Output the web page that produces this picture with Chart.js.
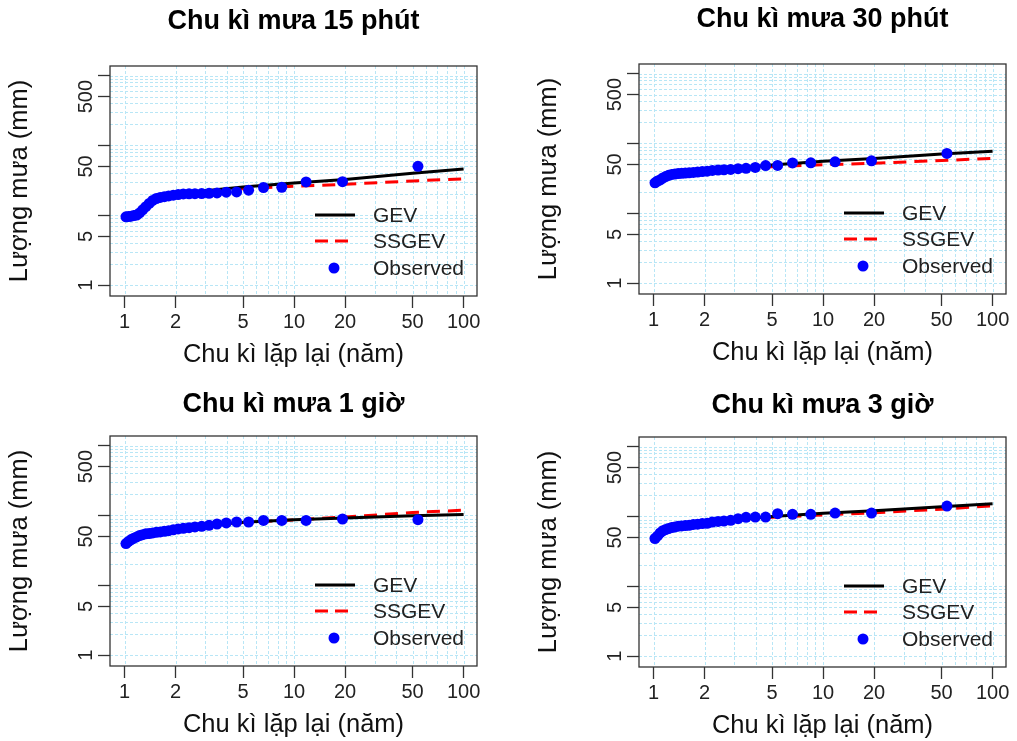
<!DOCTYPE html>
<html>
<head>
<meta charset="utf-8">
<title>Chu kì mưa</title>
<script src="https://cdn.jsdelivr.net/npm/chart.js@4.4.0/dist/chart.umd.min.js"></script>
<style>
  body { margin: 0; background: #fff; width: 1017px; height: 741px; position: relative; overflow: hidden; }
  .panel { position: absolute; width: 488px; height: 370px; }
</style>
</head>
<body>
<div class="panel" style="left:0;top:0"><canvas id="c15" width="488" height="370"></canvas></div>
<div class="panel" style="left:529px;top:-2px"><canvas id="c30" width="488" height="370"></canvas></div>
<div class="panel" style="left:0;top:370px"><canvas id="c1h" width="488" height="370"></canvas></div>
<div class="panel" style="left:529px;top:371px"><canvas id="c3h" width="488" height="370"></canvas></div>
<script>
// return periods of the observed maxima (largest first)
const obsPeriods = [53.8, 19.3, 11.77, 8.46, 6.6, 5.39, 4.58, 3.98, 3.51, 3.15,
    2.85, 2.60, 2.40, 2.22, 2.07, 1.936, 1.818, 1.715, 1.621, 1.539,
    1.465, 1.397, 1.335, 1.278, 1.226, 1.178, 1.133, 1.093, 1.055, 1.019];

const obs15 = [50.2, 30.3, 30.0, 25.2, 25.0, 22.9, 21.6, 21.4, 20.9, 20.6,
    20.5, 20.4, 20.3, 20.2, 19.8, 19.4, 18.9, 18.5, 18.0, 17.4,
    16.3, 14.8, 13.3, 12.0, 10.8, 10.1, 9.9, 9.7, 9.6, 9.5];
const obs30 = [71.8, 56.3, 54.5, 52.7, 52.5, 48.4, 48.2, 45.3, 44.0, 43.5,
    42.5, 42.0, 41.5, 41.0, 40.0, 39.5, 39.0, 38.5, 38.0, 37.6,
    37.3, 37.0, 36.5, 36.0, 35.0, 33.5, 32.0, 30.0, 29.0, 27.3];
const obs1h = [86.9, 88.9, 84.9, 84.9, 84.9, 80.5, 80.5, 78.0, 75.4, 72.1,
    69.8, 68.5, 66.8, 65.3, 64.0, 62.3, 60.5, 59.3, 58.0, 57.3,
    56.1, 55.0, 54.5, 53.1, 51.5, 49.2, 47.3, 45.1, 42.4, 39.5];
const obs3h = [140.6, 111.7, 111.7, 107.1, 107.1, 109.6, 98.0, 98.0, 97.0, 93.0,
    88.0, 86.0, 84.7, 83.0, 79.8, 79.0, 77.5, 76.7, 74.7, 74.0,
    73.1, 72.4, 70.7, 69.2, 67.0, 64.8, 62.4, 58.1, 52.6, 48.3];

// fitted return levels
const curvePeriods = [2, 3, 5, 10, 20, 50, 100];
const gev15 = [20, 22.5, 25.5, 29, 32.5, 40, 46];
const ssgev15 = [20, 22.5, 24, 26, 27.8, 31, 33.2];
const gev30 = [40, 44, 49, 55.5, 61, 70.5, 77.5];
const ssgev30 = [40, 44, 46.5, 49.5, 52, 57, 61];
const gev1h = [63, 72, 80, 87, 92, 99, 103];
const ssgev1h = [63, 72, 79, 86.5, 95, 110, 119];
const gev3h = [80, 90, 100, 111, 121, 138, 152];
const ssgev3h = [80, 90, 97, 105, 113, 127, 142];

const xTicks = [1, 2, 5, 10, 20, 50, 100];
const yTicks = [1, 5, 10, 50, 100, 500, 1000];
const yLabels = [1, 5, 50, 500];
const gridSteps = [1, 2, 3, 4, 5, 6, 7, 8, 9];
const legendLabels = ['GEV', 'SSGEV', 'Observed'];

const FONT = '"Liberation Sans", Arial, sans-serif';

// grid, box, rotated y labels and the inside legend, R style
const rPlotPlugin = {
    id: 'rPlot',
    beforeDatasetsDraw(chart) {
        const { ctx, chartArea: a, scales } = chart;
        ctx.save();
        ctx.strokeStyle = '#b8e6f6';
        ctx.lineWidth = 1;
        ctx.setLineDash([3, 2]);
        [1, 10].forEach(d => gridSteps.forEach(k => {
            const px = Math.round(scales.x.getPixelForValue(k * d)) + 0.5;
            ctx.beginPath(); ctx.moveTo(px, a.top); ctx.lineTo(px, a.bottom); ctx.stroke();
        }));
        const p100 = Math.round(scales.x.getPixelForValue(100)) + 0.5;
        ctx.beginPath(); ctx.moveTo(p100, a.top); ctx.lineTo(p100, a.bottom); ctx.stroke();
        [1, 10, 100, 1000].forEach(d => gridSteps.forEach(k => {
            const v = k * d;
            if (v > scales.y.max) return;
            const py = Math.round(scales.y.getPixelForValue(v)) + 0.5;
            ctx.beginPath(); ctx.moveTo(a.left, py); ctx.lineTo(a.right, py); ctx.stroke();
        }));
        ctx.restore();
    },
    afterDatasetsDraw(chart) {
        const { ctx, chartArea: a } = chart;
        const rows = [a.bottom - 81, a.bottom - 55, a.bottom - 28];
        ctx.save();
        ctx.lineWidth = 3;
        ctx.strokeStyle = '#000';
        ctx.beginPath(); ctx.moveTo(a.right - 162, rows[0]); ctx.lineTo(a.right - 122, rows[0]); ctx.stroke();
        ctx.strokeStyle = 'red';
        ctx.setLineDash([13, 7]);
        ctx.beginPath(); ctx.moveTo(a.right - 162, rows[1]); ctx.lineTo(a.right - 122, rows[1]); ctx.stroke();
        ctx.setLineDash([]);
        ctx.fillStyle = 'blue';
        ctx.beginPath(); ctx.arc(a.right - 143, rows[2], 5.5, 0, Math.PI * 2); ctx.fill();
        ctx.fillStyle = '#222';
        ctx.font = '21px ' + FONT;
        ctx.textAlign = 'left';
        ctx.textBaseline = 'middle';
        legendLabels.forEach((t, i) => ctx.fillText(t, a.right - 104, rows[i] + 1));
        ctx.restore();
    },
    afterDraw(chart) {
        const { ctx, chartArea: a, scales } = chart;
        ctx.save();
        ctx.strokeStyle = '#333';
        ctx.lineWidth = 1.3;
        ctx.strokeRect(a.left, a.top, a.right - a.left, a.bottom - a.top);
        ctx.fillStyle = '#222';
        ctx.font = '20px ' + FONT;
        ctx.textAlign = 'center';
        ctx.textBaseline = 'middle';
        yLabels.forEach(v => {
            ctx.save();
            ctx.translate(a.left - 25, scales.y.getPixelForValue(v));
            ctx.rotate(-Math.PI / 2);
            ctx.fillText(String(v), 0, 1);
            ctx.restore();
        });
        ctx.restore();
    }
};

function makePanel(id, title, obs, gev, ssgev, titleTop) {
    new Chart(document.getElementById(id), {
        type: 'scatter',
        data: {
            datasets: [{
                label: 'Observed',
                data: obsPeriods.map((t, i) => ({ x: t, y: obs[i] })),
                pointRadius: 5.5,
                pointBackgroundColor: 'blue',
                pointBorderWidth: 0,
                showLine: false
            }, {
                label: 'GEV',
                data: curvePeriods.map((t, i) => ({ x: t, y: gev[i] })),
                showLine: true,
                borderColor: '#000',
                borderWidth: 3,
                pointRadius: 0
            }, {
                label: 'SSGEV',
                data: curvePeriods.map((t, i) => ({ x: t, y: ssgev[i] })),
                showLine: true,
                borderColor: 'red',
                borderWidth: 3,
                borderDash: [13, 8],
                pointRadius: 0
            }]
        },
        options: {
            responsive: false,
            animation: false,
            layout: { padding: { top: 0, right: 11, bottom: 0, left: 0 } },
            plugins: {
                legend: { display: false },
                tooltip: { enabled: false },
                title: {
                    display: true,
                    text: title,
                    fullSize: false,
                    color: '#000',
                    font: { family: FONT, size: 27, weight: 'bold', lineHeight: 1.2 },
                    padding: { top: titleTop, bottom: 33.6 - titleTop }
                }
            },
            scales: {
                x: {
                    type: 'logarithmic',
                    min: 0.82,
                    max: 120,
                    afterBuildTicks: s => { s.ticks = xTicks.map(v => ({ value: v })); },
                    afterFit: s => { s.height = 74; },
                    border: { display: false },
                    grid: { drawOnChartArea: false, tickLength: 12, tickColor: '#333', tickWidth: 1.3 },
                    ticks: {
                        autoSkip: false, maxRotation: 0, padding: 2,
                        color: '#222', font: { family: FONT, size: 20 },
                        callback: v => String(v)
                    },
                    title: {
                        display: true, text: 'Chu kì lặp lại (năm)', color: '#111',
                        font: { family: FONT, size: 25.5, lineHeight: 1.2 },
                        padding: { top: 0, bottom: 0 }
                    }
                },
                y: {
                    type: 'logarithmic',
                    min: 0.72,
                    max: 1370,
                    afterBuildTicks: s => { s.ticks = yTicks.map(v => ({ value: v })); },
                    afterFit: s => { s.width = 110; },
                    border: { display: false },
                    grid: { drawOnChartArea: false, tickLength: 12, tickColor: '#333', tickWidth: 1.3 },
                    ticks: { display: false },
                    title: {
                        display: true, text: 'Lượng mưa (mm)', color: '#111',
                        font: { family: FONT, size: 25.5, lineHeight: 1.2 },
                        padding: { top: 5, bottom: 0 }
                    }
                }
            }
        },
        plugins: [rPlotPlugin]
    });
}

makePanel('c15', 'Chu kì mưa 15 phút', obs15, gev15, ssgev15, 5);
makePanel('c30', 'Chu kì mưa 30 phút', obs30, gev30, ssgev30, 5);
makePanel('c1h', 'Chu kì mưa 1 giờ', obs1h, gev1h, ssgev1h, 18);
makePanel('c3h', 'Chu kì mưa 3 giờ', obs3h, gev3h, ssgev3h, 18);
</script>
</body>
</html>
